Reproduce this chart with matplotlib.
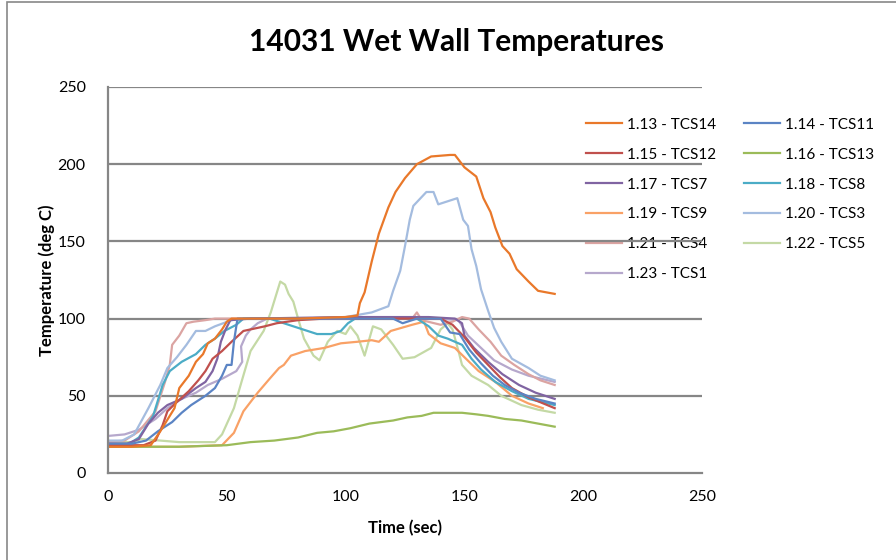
import matplotlib
matplotlib.use("Agg")
import matplotlib.pyplot as plt
from matplotlib.patches import Rectangle

# time (sec) / temperature (deg C), one pair of lists per sensor
t_tcs14 = [0, 10, 18, 22, 28, 30, 34, 37, 40, 42, 45, 48, 50, 52, 60, 80, 100, 105, 106, 108, 111, 114, 118, 121, 125, 130, 136, 144, 146, 150, 155, 158, 161, 163, 166, 169, 172, 177, 181, 188]
y_tcs14 = [17, 17, 18, 27, 42, 55, 63, 72, 77, 84, 87, 93, 98, 100, 100, 100, 101, 102, 110, 117, 137, 155, 172, 182, 191, 200, 205, 206, 206, 198, 192, 178, 169, 159, 147, 142, 132, 124, 118, 116]

t_tcs11 = [0, 10, 16, 21, 27, 31, 35, 41, 45, 48, 50, 52, 53, 54.5, 70, 100, 120, 124, 130, 140, 144, 148, 152, 157, 162, 167, 173, 180, 188]
y_tcs11 = [19, 19, 21, 27, 33, 39, 44, 50, 55, 63, 70, 70, 85, 100, 100, 100, 100, 97, 100, 100, 91, 90, 80, 71, 63, 57, 52, 48, 45]

t_tcs12 = [0, 15, 20, 23, 25, 29, 34, 38, 41, 44, 48, 52, 57, 66, 71, 80, 91, 110, 140, 145, 150, 155, 160, 165, 170, 177, 188]
y_tcs12 = [18, 18, 21, 31, 40, 46, 53, 60, 66, 74, 79, 85, 92, 95, 97, 99, 100, 100, 100, 96, 88, 78, 70, 62, 55, 49, 42]

t_tcs13 = [0, 30, 50, 60, 70, 80, 88, 95, 102, 110, 120, 126, 132, 137, 149, 155, 160, 167, 174, 181, 188]
y_tcs13 = [17, 17, 18, 20, 21, 23, 26, 27, 29, 32, 34, 36, 37, 39, 39, 38, 37, 35, 34, 32, 30]

t_tcs7 = [0, 8, 13, 17, 21, 25, 31, 37, 41, 44, 46, 47.5, 49.5, 51.5, 60, 100, 135, 146, 149, 150, 154, 160, 166, 173, 180, 188]
y_tcs7 = [19, 19, 22, 32, 39, 44, 48, 55, 59, 66, 74, 85, 93, 99, 100, 101, 101, 100, 97, 89, 81, 72, 64, 57, 52, 48]

t_tcs8 = [0, 8, 13, 19, 23, 26, 31, 37, 41, 45, 49, 54, 57, 68, 74, 80, 88, 94, 98, 101, 104, 120, 130, 135, 139, 143, 149, 153, 157, 163, 170, 177, 188]
y_tcs8 = [18, 18, 23, 37, 57, 66, 72, 77, 83, 87, 92, 96, 100, 100, 97, 94, 90, 90, 92, 97, 100, 100, 100, 95, 89, 87, 83, 74, 67, 59, 53, 48, 44]

t_tcs9 = [0, 30, 48, 53, 57, 63, 68, 72, 74, 77, 83, 91, 98, 105, 111, 114, 119, 128, 133, 135, 140, 146, 150, 156, 163, 170, 177, 183]
y_tcs9 = [17, 17, 18, 26, 40, 52, 61, 68, 70, 76, 79, 81, 84, 85, 86, 85, 92, 96, 98, 90, 84, 81, 75, 66, 59, 50, 45, 42]

t_tcs3 = [0, 6, 11, 17, 22, 25, 29, 33, 37, 41, 45, 52, 56, 80, 100, 111, 118, 120, 123, 125, 127, 128.5, 134, 137, 139, 143, 147, 149.5, 151.5, 153, 155, 157, 160, 162.5, 165.5, 170, 177, 182, 188]
y_tcs3 = [21, 21, 25, 42, 57, 68, 75, 83, 92, 92, 95, 99, 100, 100, 101, 104, 108, 118, 131, 147, 164, 173, 182, 182, 174, 176, 178, 164, 160, 145, 134, 119, 105, 94, 85, 74, 68, 63, 60]

t_tcs4 = [0, 7, 13, 20, 24, 26, 27, 30, 33, 36, 41, 45, 100, 128, 130, 132, 140, 145, 149, 152, 156, 161, 165.5, 171, 177, 182, 188]
y_tcs4 = [20, 21, 27, 40, 59, 70, 83, 89, 97, 98, 99, 100, 100, 100, 104, 99, 96, 98, 101, 100, 93, 85, 76, 70, 64, 60, 57]

t_tcs5 = [0, 10, 14, 30, 45, 48, 53, 56, 60, 65.5, 68.5, 71.5, 72.5, 74.5, 76, 78, 80, 82.5, 86.5, 89, 92.5, 96.5, 100, 102, 105, 108, 111.5, 115, 120, 124, 129, 136, 140, 143, 145, 147.5, 149, 153, 160, 165.5, 174, 181, 188]
y_tcs5 = [20, 20, 22, 20, 20, 25, 42, 58, 79, 92, 104, 119, 124, 122, 116, 111, 100, 87, 76, 73, 85, 92, 90, 95, 89, 76, 95, 93, 83, 74, 75, 81, 93, 97, 93, 79, 70, 63, 57, 50, 44, 41, 39]

t_tcs1 = [0, 7, 13, 20, 25, 31, 37, 42, 48, 54, 56.5, 56, 58, 60, 63, 67, 100, 140, 147.5, 151.5, 157, 162.5, 170, 177, 188]
y_tcs1 = [24, 25, 28, 35, 42, 48, 52, 57, 61, 66, 72, 82, 89, 93, 97, 100, 100, 100, 99, 89, 81, 73, 67, 63, 59]

labels = ["1.13 - TCS14", "1.14 - TCS11", "1.15 - TCS12", "1.16 - TCS13",
          "1.17 - TCS7", "1.18 - TCS8", "1.19 - TCS9", "1.20 - TCS3",
          "1.21 - TCS4", "1.22 - TCS5", "1.23 - TCS1"]
times = [t_tcs14, t_tcs11, t_tcs12, t_tcs13, t_tcs7, t_tcs8, t_tcs9, t_tcs3, t_tcs4, t_tcs5, t_tcs1]
temps = [y_tcs14, y_tcs11, y_tcs12, y_tcs13, y_tcs7, y_tcs8, y_tcs9, y_tcs3, y_tcs4, y_tcs5, y_tcs1]
colors = ["#E9782A", "#5B84C4", "#C0504D", "#9BBB59", "#8064A2", "#4BACC6",
          "#F9A166", "#A4BCDF", "#DBA4A2", "#C4D9A5", "#B6A8CC"]

plt.rcParams['font.family'] = ['Lato', 'DejaVu Sans']

fig = plt.figure(figsize=(8.96, 5.6), dpi=100)
ax = fig.add_axes([108 / 896, 1 - 473 / 560, (702 - 108) / 896, (473 - 87) / 560])

# outer chart border
fig.patches.append(Rectangle((7 / 896, -0.01), 1.2, 1 - 2 / 560 + 0.01, transform=fig.transFigure,
                             fill=False, edgecolor="#888888", linewidth=1.2))

# draw later series first so TCS14 etc sit on top
for i in range(len(labels) - 1, -1, -1):
    ax.plot(times[i], temps[i], color=colors[i], linewidth=1.6, label=labels[i], zorder=2)

ax.set_xlim(0, 250)
ax.set_ylim(0, 250)
ax.set_xticks(range(0, 251, 50))
ax.set_yticks(range(0, 251, 50))
ax.tick_params(length=0, labelsize=11.5, pad=12, colors="#000000")
ax.tick_params(axis='y', pad=16)
for y in range(50, 251, 50):
    ax.axhline(y, color="#868686", linewidth=1.6, zorder=1.5)
for s in ["top", "right"]:
    ax.spines[s].set_visible(False)
for s in ["left", "bottom"]:
    ax.spines[s].set_color("#868686")
    ax.spines[s].set_linewidth(1.6)

ax.set_xlabel("Time (sec)", fontsize=12, fontweight="bold", labelpad=12)
ax.set_ylabel("Temperature (deg C)", fontsize=12, fontweight="bold", labelpad=2)
fig.text(456 / 896, 1 - 42 / 560, "14031 Wet Wall Temperatures", ha="center", va="center",
         fontsize=21.5, fontweight="bold")

handles, labs = ax.get_legend_handles_labels()
handles = handles[::-1]
labs = labs[::-1]
# excel fills the legend row by row: reorder for matplotlib's column-major layout
order = [0, 2, 4, 6, 8, 10, 1, 3, 5, 7, 9]
leg = ax.legend([handles[i] for i in order], [labs[i] for i in order], ncol=2, frameon=False,
                loc="upper left", bbox_to_anchor=(572 / 896, 1 - 104 / 560),
                bbox_transform=fig.transFigure, fontsize=11, handlelength=2.4,
                handletextpad=0.3, columnspacing=1.8, labelspacing=1.04)
leg.set_zorder(1)

fig.savefig("out.png", dpi=100)
